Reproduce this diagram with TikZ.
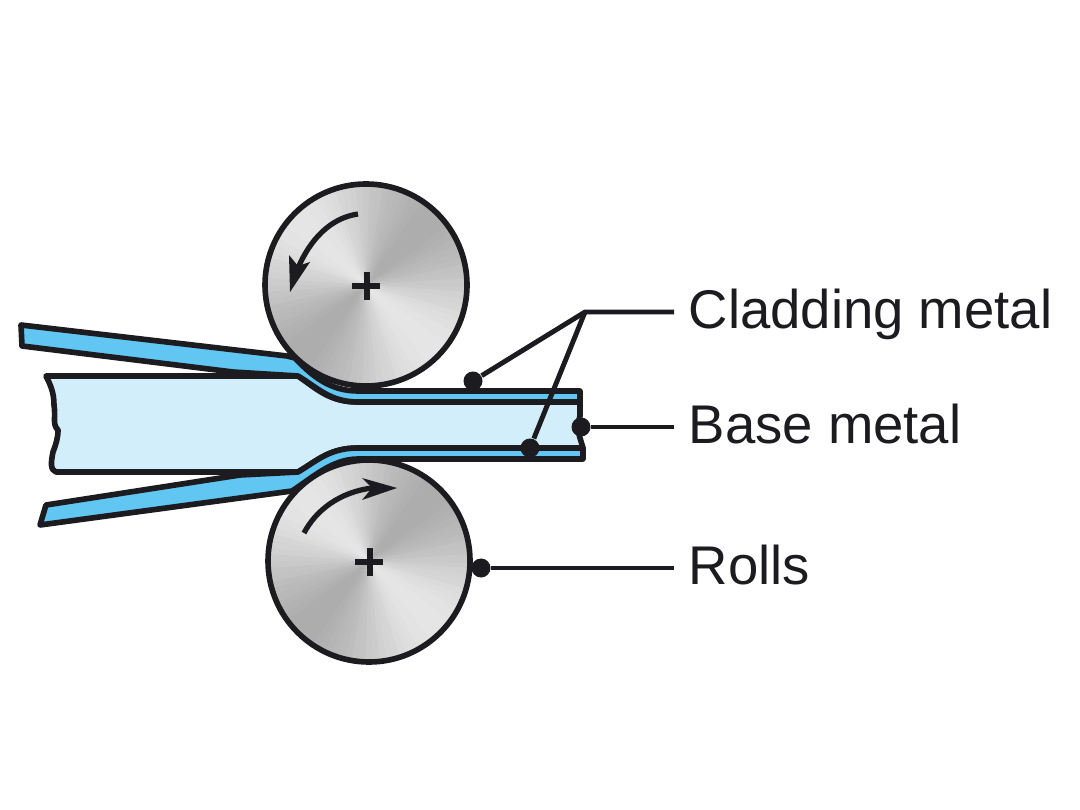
\documentclass[tikz,border=0pt]{standalone}
\usepackage{fontspec}
\setmainfont{Liberation Sans}
\usepackage{xcolor}
\definecolor{inkline}{HTML}{1C1C20}
\definecolor{cladblue}{HTML}{62C6F2}
\definecolor{baseblue}{HTML}{D3EEFB}
\tikzset{
	outline/.style={draw=inkline,line width=1.6pt,line join=round},
	leader/.style={draw=inkline,line width=1.4pt},
	dotnode/.style={circle,fill=inkline,inner sep=0pt,minimum size=0.19cm},
	partlabel/.style={anchor=base west,inner sep=0pt,text=inkline,font=\fontsize{15.5}{18}\selectfont},
	turnarrow/.style={draw=inkline,line width=1.5pt},
}
% one roll: sectors of grey, then rim and centre cross
\newcommand{\rollface}[2]{
	\begin{scope}[shift={(#1,#2)}]
		\begin{scope}
			\clip (0,0) circle (102);
			\foreach \a in {0,4,...,356}{
				\pgfmathsetmacro{\g}{round(21-11*cos(2*(\a-42)))}
				\fill[black!\g!white] (0,0) -- (\a:150) -- ({\a+5}:150) -- cycle;
			}
		\end{scope}
		\draw[outline] (0,0) circle (101);
		\draw[inkline,line width=1.6pt] (-14,1) -- (14,1);
		\draw[inkline,line width=1.6pt] (1,-13) -- (1,15);
	\end{scope}
}
\begin{document}
\begin{tikzpicture}[x=0.01cm,y=-0.01cm]
	\useasboundingbox (0,0) rectangle (1080,810);
	
	\rollface{366}{285}
	\rollface{369}{561}
	
	% base metal
	\draw[outline,fill=baseblue] (46,376) -- (298,376) .. controls (318,390) and (330,402) .. (358,402) -- (580,402) -- (580,416) -- (577,427) -- (580,438) -- (583,448) -- (358,448) .. controls (330,448) and (318,460) .. (298,472) -- (56,472) .. controls (50,470) and (51,462) .. (53,452) .. controls (56,444) and (58,438) .. (58,430) .. controls (52,424) and (56,418) .. (54,405) .. controls (54,392) and (50,384) .. (46,376) -- cycle;
	
	% cladding metal
	\draw[outline,fill=cladblue] (21,325) -- (287,356) -- (295,358) .. controls (312,376) and (330,391) .. (358,391) -- (580,391) -- (580,402) -- (358,402) .. controls (330,402) and (318,388) .. (298,376) -- (233,372) -- (22,346) -- cycle;
	\draw[outline,fill=cladblue] (46,505) -- (240,475) -- (298,472) .. controls (318,460) and (330,448) .. (358,448) -- (583,448) -- (583,459) -- (358,459) .. controls (332,459) and (312,478) .. (292,491) -- (40,525) -- cycle;
	
	% arrows on the rolls
	\draw[turnarrow] (358,214) .. controls (330,218) and (310,240) .. (298,268);
	\fill[inkline] (290,292) -- (289,255) -- (298,266) -- (310,262) -- cycle;
	\draw[turnarrow] (304,533) .. controls (316,510) and (340,492) .. (372,488);
	\fill[inkline] (397,488) -- (362,478) -- (372,488) -- (362,500) -- cycle;
	
	% labels and leaders
	\node[partlabel] (clad) at (688,329) {Cladding metal};
	\node[partlabel] (base) at (688,443) {Base metal};
	\node[partlabel] (rolls) at (688,584) {Rolls};
	
	\coordinate (knee) at (585,312);
	\coordinate (cladend) at (674,312);
	\coordinate (baseend) at (674,427);
	\coordinate (rollsend) at (674,568);
	\node[dotnode] (cladtop) at (473,381) {};
	\node[dotnode] (cladlow) at (530,448) {};
	\node[dotnode] (basedot) at (581,427) {};
	\node[dotnode] (rollsdot) at (481,568) {};
	
	\draw[leader] (cladend) -- (knee) -- (cladtop);
	\draw[leader] (knee) -- (cladlow);
	\draw[leader] (baseend) -- (basedot);
	\draw[leader] (rollsend) -- (rollsdot);
\end{tikzpicture}
\end{document}
